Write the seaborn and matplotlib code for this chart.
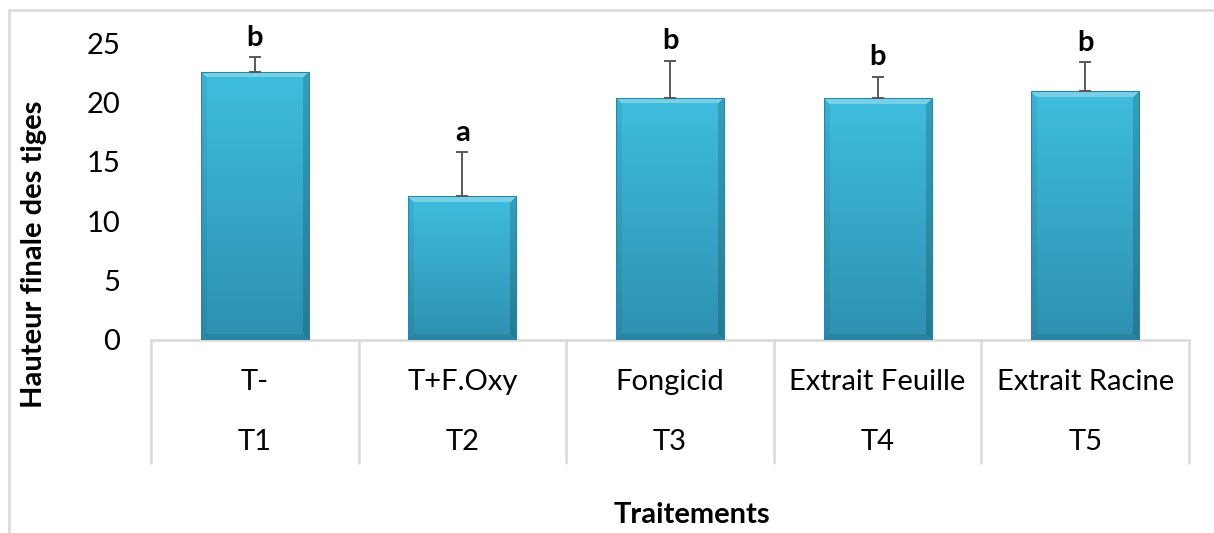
import numpy as np
import pandas as pd
import matplotlib
matplotlib.use("Agg")
import matplotlib.pyplot as plt
import seaborn as sns
from matplotlib.lines import Line2D
from matplotlib.transforms import blended_transform_factory

# Final stem height per treatment (mean and standard deviation)
traitements = ["T-", "T+F.Oxy", "Fongicid", "Extrait Feuille", "Extrait Racine"]
codes = ["T1", "T2", "T3", "T4", "T5"]
hauteur = [22.6, 12.1, 20.4, 20.35, 20.95]
ecart_type = [1.2, 3.7, 3.1, 1.8, 2.45]
groupes = ["b", "a", "b", "b", "b"]
y_ticks = [0, 5, 10, 15, 20, 25]

sns.set_theme(style="white")
plt.rcParams["font.family"] = ["Lato", "DejaVu Sans"]
plt.rcParams["text.color"] = "black"
plt.rcParams["ytick.color"] = "black"
plt.rcParams["ytick.labelcolor"] = "black"
FS = 21

W, H = 1214, 533
fig = plt.figure(figsize=(W / 100, H / 100), dpi=100)
ax_left, ax_right, ax_top, ax_bottom = 151, 1189, 43, 340
ax = fig.add_axes([ax_left / W, 1 - ax_bottom / H,
                   (ax_right - ax_left) / W, (ax_bottom - ax_top) / H])

df = pd.DataFrame({"code": codes, "traitement": traitements, "hauteur": hauteur})
sns.barplot(data=df, x="code", y="hauteur", ax=ax, width=0.52,
            color="#38B0D2", saturation=1, errorbar=None, zorder=3)

ax.set_xlim(-0.5, len(codes) - 0.5)
ax.set_ylim(0, 25)
for s in ax.spines.values():
    s.set_visible(False)
ax.set_yticks(y_ticks)
ax.set_yticklabels([str(t) for t in y_ticks], fontsize=FS, color="black")
ax.tick_params(axis="y", length=0, pad=22)
ax.set_xticks([])
ax.set_xlabel("")
ax.set_ylabel("")

# Bevelled, gradient-filled bars
top_col = np.array([63, 190, 223]) / 255
bot_col = np.array([46, 144, 176]) / 255
for patch in ax.patches:
    x0, y0 = patch.get_x(), patch.get_y()
    bw, bh = patch.get_width(), patch.get_height()
    (px0, py0), (px1, py1) = ax.transData.transform([(x0, y0), (x0 + bw, y0 + bh)])
    nw, nh = max(int(round(px1 - px0)), 2), max(int(round(py1 - py0)), 2)
    t = np.linspace(0, 1, nh)[:, None, None]
    img = top_col * (1 - t) + bot_col * t
    img = np.repeat(img, nw, axis=1)
    rr, cc = np.mgrid[0:nh, 0:nw]
    d_top, d_bot = rr, nh - 1 - rr
    d_left, d_right = cc, nw - 1 - cc
    dmin = np.minimum.reduce([d_top, d_bot, d_left, d_right])
    bev = 6
    edge = dmin < bev
    top_m = edge & (d_top == dmin)
    bot_m = edge & (d_bot == dmin) & ~top_m
    left_m = edge & (d_left == dmin) & ~top_m & ~bot_m
    right_m = edge & (d_right == dmin) & ~top_m & ~bot_m & ~left_m
    img[top_m] = img[top_m] * 0.7 + np.array([1, 1, 1]) * 0.3
    img[left_m] = img[left_m] * 0.94
    img[right_m] = img[right_m] * 0.84
    img[bot_m] = img[bot_m] * 0.92
    im = ax.imshow(img, extent=[x0, x0 + bw, y0, y0 + bh], aspect="auto",
                   origin="upper", zorder=3, interpolation="bilinear")
    im.set_clip_path(patch)
    patch.set_facecolor("none")
    patch.set_edgecolor("#2C86A3")
    patch.set_linewidth(0.8)
    patch.set_zorder(4)

ax.set_xlim(-0.5, len(codes) - 0.5)
ax.set_ylim(0, 25)

# Upper error bars
xpos = np.arange(len(codes))
ax.errorbar(xpos, hauteur, yerr=[np.zeros(len(codes)), ecart_type], fmt="none",
            ecolor="#595959", elinewidth=1.4, capsize=4.5, capthick=1.4,
            zorder=5, clip_on=False)

# Significance letters
for i, (m, s, g) in enumerate(zip(hauteur, ecart_type, groupes)):
    ax.annotate(g, xy=(i, m + s), xytext=(0, 14), textcoords="offset points",
                ha="center", va="center", fontsize=FS, fontweight="bold",
                color="black", annotation_clip=False)

# Two-level category axis
grid_col = "#D9D9D9"
trans = blended_transform_factory(ax.transData, ax.transAxes)
h_px = ax_bottom - ax_top
ax.add_line(Line2D([-0.5, len(codes) - 0.5], [0, 0], transform=trans,
                   color=grid_col, lw=1.8, clip_on=False, zorder=2))
for b in np.arange(len(codes) + 1) - 0.5:
    ax.add_line(Line2D([b, b], [0, -(463 - ax_bottom) / h_px], transform=trans,
                       color=grid_col, lw=1.8, clip_on=False, zorder=2))
for i, (lab, code) in enumerate(zip(traitements, codes)):
    ax.text(i, -(382 - ax_bottom) / h_px, lab, transform=trans, ha="center",
            va="center", fontsize=FS, color="black")
    ax.text(i, -(442 - ax_bottom) / h_px, code, transform=trans, ha="center",
            va="center", fontsize=FS, color="black")

# Axis titles
fig.text(34 / W, 1 - 254 / H, "Hauteur finale des tiges", rotation=90,
         ha="center", va="center", fontsize=FS, fontweight="bold", color="black")
fig.text(692 / W, 1 - 515 / H, "Traitements", ha="center", va="center",
         fontsize=FS, fontweight="bold", color="black")

# Chart frame (top and left edges)
fig.add_artist(Line2D([9 / W, 1], [1 - 10 / H, 1 - 10 / H], color=grid_col, lw=1.8))
fig.add_artist(Line2D([9 / W, 9 / W], [0, 1 - 10 / H], color=grid_col, lw=1.8))

fig.savefig("out.png", dpi=100)
